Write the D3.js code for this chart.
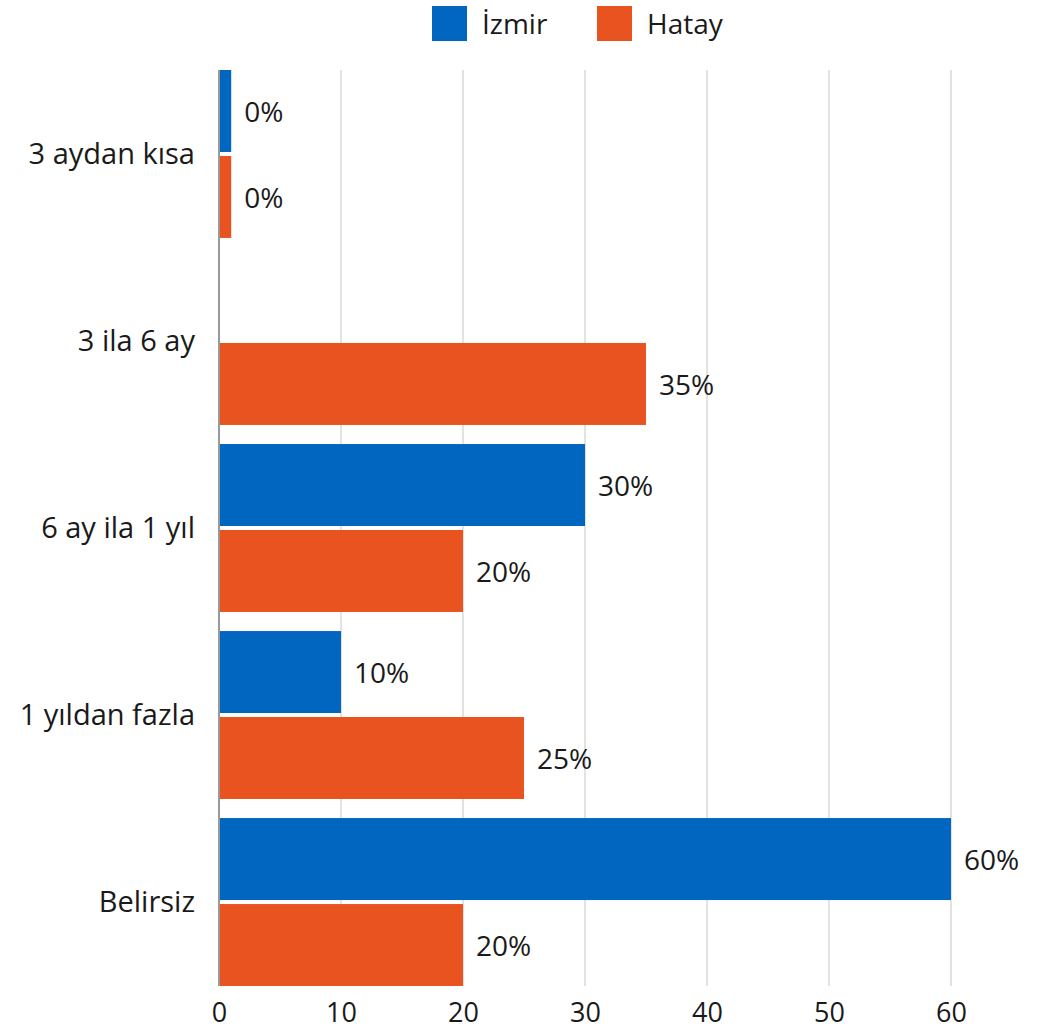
<!DOCTYPE html>
<html>
<head>
<meta charset="utf-8">
<script src="https://cdn.jsdelivr.net/npm/d3@7"></script>
<style>
  body { margin: 0; background: #fff; }
  text { font-family: "Open Sans", sans-serif; fill: #1a1a1a; }
</style>
</head>
<body>
<div class="chart"></div>
<script>
// data
const categories = ["3 aydan kısa", "3 ila 6 ay", "6 ay ila 1 yıl", "1 yıldan fazla", "Belirsiz"];
const seriesNames = ["İzmir", "Hatay"];
const izmir = [1, null, 30, 10, 60];
const hatay = [1, 35, 20, 25, 20];
const izmirLabels = ["0%", "", "30%", "10%", "60%"];
const hatayLabels = ["0%", "35%", "20%", "25%", "20%"];
const xTicks = [0, 10, 20, 30, 40, 50, 60];
const colors = ["#0066bf", "#e8531f"];

const margin = {top: 70, right: 86, bottom: 43, left: 219};
const W = 1037, H = 1029;
const width = W - margin.left - margin.right;
const height = H - margin.top - margin.bottom;

const svg = d3.select(".chart").append("svg")
    .attr("width", W)
    .attr("height", H);

const g = svg.append("g")
    .attr("transform", `translate(${margin.left},${margin.top})`);

const x = d3.scaleLinear().domain([0, 60]).range([0, 732]);
const y = d3.scaleBand().domain(categories).range([0, height])
    .paddingInner(0.102).paddingOuter(0);
const y1 = d3.scaleBand().domain(seriesNames).range([0, y.bandwidth()])
    .paddingInner(0.0465).paddingOuter(0);

// gridlines
g.append("g")
  .selectAll("line")
  .data(xTicks.filter(d => d > 0))
  .enter().append("line")
  .attr("x1", d => x(d)).attr("x2", d => x(d))
  .attr("y1", 0).attr("y2", height)
  .attr("stroke", "#c6c6c6")
  .attr("stroke-width", 1);

// x axis labels
const xAxis = d3.axisBottom(x).tickValues(xTicks).tickSize(0).tickPadding(17);
g.append("g")
  .attr("transform", `translate(0,${height})`)
  .call(xAxis)
  .call(a => a.select(".domain").remove())
  .selectAll("text")
  .attr("font-size", 27)
  .attr("font-family", "Open Sans")
  .attr("fill", "#1a1a1a");

// bars
const rows = categories.map((c, i) => ({
  cat: c,
  vals: [
    {s: seriesNames[0], v: izmir[i], lab: izmirLabels[i]},
    {s: seriesNames[1], v: hatay[i], lab: hatayLabels[i]}
  ]
}));

const grp = g.selectAll(".grp")
  .data(rows)
  .enter().append("g")
  .attr("class", "grp")
  .attr("transform", d => `translate(0,${y(d.cat)})`);

grp.selectAll("rect")
  .data(d => d.vals.filter(e => e.v != null))
  .enter().append("rect")
  .attr("x", 0)
  .attr("y", d => y1(d.s))
  .attr("width", d => x(d.v))
  .attr("height", y1.bandwidth())
  .attr("fill", d => colors[seriesNames.indexOf(d.s)]);

grp.selectAll(".vlab")
  .data(d => d.vals.filter(e => e.v != null))
  .enter().append("text")
  .attr("class", "vlab")
  .attr("x", d => x(d.v) + 13)
  .attr("y", d => y1(d.s) + y1.bandwidth() / 2 + 1)
  .attr("dy", "0.35em")
  .attr("font-size", 28)
  .text(d => d.lab);

// y axis line + category labels
g.append("line")
  .attr("x1", 0).attr("x2", 0)
  .attr("y1", 0).attr("y2", height)
  .attr("stroke", "#999")
  .attr("stroke-width", 2);

g.selectAll(".clab")
  .data(categories)
  .enter().append("text")
  .attr("class", "clab")
  .attr("x", -24)
  .attr("y", d => y(d) + y.bandwidth() / 2)
  .attr("dy", "0.35em")
  .attr("text-anchor", "end")
  .attr("font-size", 29)
  .text(d => d);

// legend
const leg = svg.append("g");
const legX = [432, 597];
seriesNames.forEach((s, i) => {
  leg.append("rect")
    .attr("x", legX[i]).attr("y", 6)
    .attr("width", 35).attr("height", 35)
    .attr("fill", colors[i]);
  leg.append("text")
    .attr("x", legX[i] + 50).attr("y", 24)
    .attr("dy", "0.35em")
    .attr("font-size", 28)
    .text(s);
});
</script>
</body>
</html>
